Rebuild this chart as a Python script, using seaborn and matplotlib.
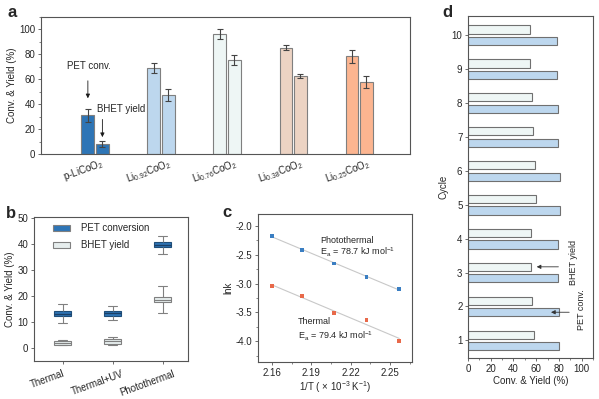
import numpy as np
import pandas as pd
import matplotlib
matplotlib.use('Agg')
import matplotlib.pyplot as plt
import matplotlib.transforms as mtrans
import seaborn as sns
from matplotlib.ticker import MultipleLocator, FormatStrFormatter
from matplotlib.container import BarContainer

sns.set_theme(style='ticks')
plt.rcParams['font.family'] = ['Liberation Sans', 'DejaVu Sans']
plt.rcParams['mathtext.fontset'] = 'custom'
plt.rcParams['mathtext.rm'] = 'Liberation Sans'
plt.rcParams['mathtext.it'] = 'Liberation Sans:italic'
plt.rcParams['mathtext.bf'] = 'Liberation Sans:bold'
plt.rcParams['axes.unicode_minus'] = False

# ---------------- data ----------------
# panel a
a_samples = ['p-LiCoO$_2$', 'Li$_{0.92}$CoO$_2$', 'Li$_{0.76}$CoO$_2$',
             'Li$_{0.38}$CoO$_2$', 'Li$_{0.25}$CoO$_2$']
a_pet = [31, 69, 96.5, 85.5, 78.5]
a_pet_err = [5.0, 4.3, 3.9, 1.9, 5.4]
a_bhet = [7.8, 47.3, 75.5, 62.6, 58]
a_bhet_err = [2.3, 4.7, 3.9, 1.7, 4.7]
a_colors = ['#2e75b6', '#bdd7ee', '#eef6f5', '#ecd3c3', '#fcb590']

# panel b (min, q1, median, q3, max)
b_conditions = ['Thermal', 'Thermal+UV', 'Photothermal']
b_pet = [[9.5, 12.3, 13.0, 14.2, 16.8],
         [10.7, 12.5, 13.5, 14.4, 16.2],
         [36.1, 38.8, 39.8, 40.9, 43.3]]
b_bhet = [[1.0, 1.3, 2.05, 2.8, 3.2],
          [1.2, 1.7, 2.6, 3.3, 4.1],
          [13.6, 17.6, 18.6, 19.7, 23.9]]

# panel c
c_invT = [2.160, 2.183, 2.2075, 2.232, 2.257]
c_photo = [-2.168, -2.417, -2.649, -2.881, -3.096]
c_thermal = [-3.038, -3.217, -3.513, -3.635, -3.994]

# panel d
d_cycles = ['10', '9', '8', '7', '6', '5', '4', '3', '2', '1']
d_bhet = [54.5, 54.8, 56.6, 56.9, 58.6, 59.8, 55.1, 55.4, 56.0, 57.7]
d_pet = [78.1, 78.7, 79.6, 79.6, 80.8, 81.3, 79.3, 79.6, 80.2, 80.5]

# ---------------- figure ----------------
fig = plt.figure(figsize=(5.99, 3.99), dpi=100)
spine_c = '#555555'
FS = 7


def style_ax(ax):
    for s in ax.spines.values():
        s.set_visible(True)
        s.set_color(spine_c)
        s.set_linewidth(0.8)
    ax.tick_params(which='major', labelsize=FS, length=2.5, width=0.6,
                   color=spine_c, pad=1.5)
    ax.tick_params(which='minor', length=1.5, width=0.5, color=spine_c)


def slant_labels(ax, dx_px, pad):
    ax.tick_params(axis='x', pad=pad)
    off = mtrans.ScaledTranslation(dx_px / 100, 0, fig.dpi_scale_trans)
    for lab in ax.get_xticklabels():
        lab.set_rotation(20)
        lab.set_ha('center')
        lab.set_va('top')
        lab.set_rotation_mode('default')
        lab.set_fontsize(FS)
        lab.set_transform(lab.get_transform() + off)


# ----- panel a -----
axa = fig.add_axes([41/599, 1-154/399, (410-41)/599, (154-17)/399])
df_a = pd.DataFrame({'sample': a_samples * 2,
                     'series': ['PET conv.'] * 5 + ['BHET yield'] * 5,
                     'value': a_pet + a_bhet})
sns.barplot(df_a, x='sample', y='value', hue='series', order=a_samples,
            hue_order=['PET conv.', 'BHET yield'], width=0.44, gap=0.12,
            errorbar=None, legend=False, ax=axa, edgecolor='#7f7f7f',
            linewidth=0.8, saturation=1)
errs = [a_pet_err, a_bhet_err]
bar_conts = [c for c in axa.containers if isinstance(c, BarContainer)]
for k, cont in enumerate(bar_conts):
    for bar in cont:
        xc = bar.get_x() + bar.get_width() / 2
        j = int(round(xc))
        bar.set_facecolor(a_colors[j])
        axa.errorbar(xc, bar.get_height(), yerr=errs[k][j], fmt='none',
                     ecolor='#444444', elinewidth=0.8, capsize=2.5,
                     capthick=0.8)
axa.set_xlim(-0.82, 4.77)
axa.set_ylim(0, 110)
axa.yaxis.set_major_locator(MultipleLocator(20))
axa.yaxis.set_minor_locator(MultipleLocator(10))
style_ax(axa)
axa.tick_params(axis='x', length=0)
slant_labels(axa, -12, 2)
axa.set_xlabel('')
axa.set_ylabel('Conv. & Yield (%)', fontsize=FS, labelpad=2)
axa.annotate('', xy=(-0.11, 42.5), xytext=(-0.11, 61),
             arrowprops=dict(arrowstyle='-|>', color='k', lw=0.6,
                             mutation_scale=6))
axa.text(-0.10, 71, 'PET conv.', fontsize=FS, ha='center', va='center')
axa.annotate('', xy=(0.11, 11.3), xytext=(0.11, 30),
             arrowprops=dict(arrowstyle='-|>', color='k', lw=0.6,
                             mutation_scale=6))
axa.text(0.40, 36, 'BHET yield', fontsize=FS, ha='center', va='center')

# ----- panel b -----
axb = fig.add_axes([34/599, 1-361/399, (188-34)/599, (361-217)/399])
rows = []
for cond, vals in zip(b_conditions, b_pet):
    for v in vals:
        rows.append((cond, 'PET conversion', v))
for cond, vals in zip(b_conditions, b_bhet):
    for v in vals:
        rows.append((cond, 'BHET yield', v))
df_b = pd.DataFrame(rows, columns=['cond', 'series', 'value'])
sns.boxplot(df_b, x='cond', y='value', hue='series', order=b_conditions,
            hue_order=['PET conversion', 'BHET yield'], dodge=False,
            whis=(0, 100), width=0.33, linewidth=0.8, linecolor='#808080',
            palette={'PET conversion': '#2e75b6', 'BHET yield': '#e6eded'},
            saturation=1, ax=axb)
conts = list(axb.containers)
if len(conts) >= 2:
    try:
        for b in conts[0].boxes:
            b.set_edgecolor('#1f4e79')
        for m in conts[0].medians:
            m.set_color('#1a3f66')
            m.set_linewidth(1.0)
    except Exception:
        pass
axb.set_xlim(-0.57, 2.51)
axb.set_ylim(-5, 50.5)
axb.yaxis.set_major_locator(MultipleLocator(10))
style_ax(axb)
slant_labels(axb, -15, 3)
axb.set_xlabel('')
axb.set_ylabel('Conv. & Yield (%)', fontsize=FS, labelpad=2)
sns.move_legend(axb, 'upper left', bbox_to_anchor=(0.1, 0.985),
                frameon=False, title=None, fontsize=FS, handlelength=1.7,
                handleheight=0.6, handletextpad=1.2, labelspacing=0.75,
                borderaxespad=0)

# ----- panel c -----
axc = fig.add_axes([258/599, 1-362/399, (412-258)/599, (362-214)/399])
df_c = pd.DataFrame({'invT': c_invT * 2, 'lnk': c_photo + c_thermal,
                     'cond': ['Photothermal'] * 5 + ['Thermal'] * 5})
sns.regplot(x=c_invT, y=c_photo, scatter=False, ci=None, color='#c8c8c8',
            line_kws=dict(lw=0.8), ax=axc)
sns.regplot(x=c_invT, y=c_thermal, scatter=False, ci=None, color='#c8c8c8',
            line_kws=dict(lw=0.8), ax=axc)
sns.scatterplot(df_c, x='invT', y='lnk', hue='cond', marker='s', s=7,
                palette={'Photothermal': '#3a7ec2', 'Thermal': '#e8694a'},
                edgecolor='none', legend=False, ax=axc, zorder=3)
axc.set_xlim(2.1495, 2.2667)
axc.set_ylim(-4.36, -1.79)
axc.xaxis.set_major_locator(MultipleLocator(0.03))
axc.xaxis.set_minor_locator(MultipleLocator(0.015))
axc.xaxis.set_major_formatter(FormatStrFormatter('%.2f'))
axc.yaxis.set_major_locator(MultipleLocator(0.5))
axc.yaxis.set_minor_locator(MultipleLocator(0.25))
axc.yaxis.set_major_formatter(FormatStrFormatter('%.1f'))
style_ax(axc)
axc.set_xlabel('1/T ( × 10$^{-3}$ K$^{-1}$)', fontsize=FS, labelpad=1)
axc.set_ylabel('lnk', fontsize=FS, labelpad=2)
axc.text(2.197, -2.256, 'Photothermal', fontsize=6.5, va='center')
axc.text(2.197, -2.464, 'E$_\\mathrm{a}$ = 78.7 kJ mol$^{-1}$', fontsize=6.5,
         va='center')
axc.text(2.180, -3.664, 'Thermal', fontsize=6.5, va='center')
axc.text(2.180, -3.91, 'E$_\\mathrm{a}$ = 79.4 kJ mol$^{-1}$', fontsize=6.5,
         va='center')

# ----- panel d -----
axd = fig.add_axes([468/599, 1-358/399, (593-468)/599, (358-16)/399])
df_d = pd.DataFrame({'cycle': d_cycles * 2, 'value': d_bhet + d_pet,
                     'series': ['BHET yield'] * 10 + ['PET conv.'] * 10})
sns.barplot(df_d, y='cycle', x='value', hue='series', order=d_cycles,
            hue_order=['BHET yield', 'PET conv.'], orient='y', width=0.68,
            gap=0.29, errorbar=None, legend=False, ax=axd, saturation=1,
            palette={'BHET yield': '#eef6f5', 'PET conv.': '#bdd7ee'},
            edgecolor='#707070', linewidth=0.8)
axd.set_xlim(0, 110)
axd.set_ylim(9.52, -0.57)
axd.xaxis.set_major_locator(MultipleLocator(20))
axd.xaxis.set_minor_locator(MultipleLocator(10))
style_ax(axd)
axd.set_xlabel('Conv. & Yield (%)', fontsize=FS, labelpad=2)
axd.set_ylabel('Cycle', fontsize=FS, labelpad=2)
axd.annotate('', xy=(58, 6.83), xytext=(82, 6.83),
             arrowprops=dict(arrowstyle='-|>', color='#333333', lw=0.6,
                             mutation_scale=6))
axd.annotate('', xy=(70.6, 8.17), xytext=(91.5, 8.17),
             arrowprops=dict(arrowstyle='-|>', color='#333333', lw=0.6,
                             mutation_scale=6))
axd.text(92.4, 6.7, 'BHET yield', rotation=90, fontsize=6.5, ha='center',
         va='center')
axd.text(99.5, 8.09, 'PET conv.', rotation=90, fontsize=6.5, ha='center',
         va='center')

# panel letters
for lab, x, y in [('a', 7, 17), ('b', 6, 218), ('c', 222, 217), ('d', 442, 17)]:
    fig.text(x/599, 1-y/399, lab, fontsize=12, fontweight='bold',
             va='baseline', ha='left')

fig.savefig('out.png', dpi=100)
